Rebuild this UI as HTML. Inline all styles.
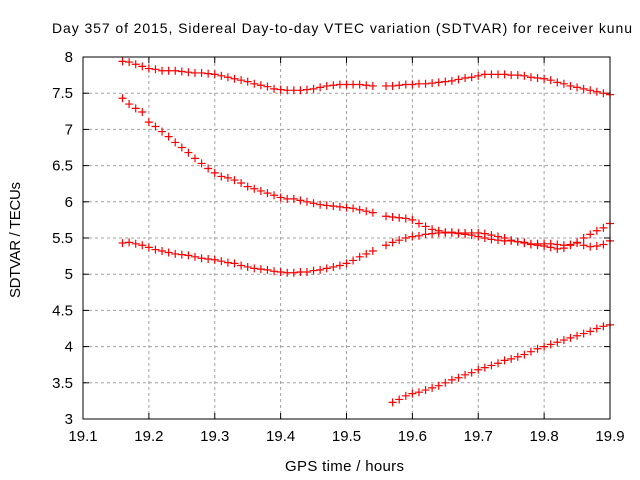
<!DOCTYPE html>
<html><head><meta charset="utf-8"><style>
body{margin:0;background:#fff}
svg{display:block;font-family:"Liberation Sans",sans-serif}
</style></head><body>
<svg id="chart" width="640" height="480" viewBox="0 0 640 480" xmlns="http://www.w3.org/2000/svg">
<rect width="640" height="480" fill="#fff"/>
<text x="52" y="33" font-size="14" textLength="580" lengthAdjust="spacing" fill="#000">Day 357 of 2015, Sidereal Day-to-day VTEC variation (SDTVAR) for receiver kunu</text>
<g id="grid"></g>
<g id="ticks"></g>
<g id="marks"></g>
<rect x="83" y="57" width="527" height="362" fill="none" stroke="#000" stroke-width="1"/>
<text x="285" y="471" font-size="15" textLength="119" lengthAdjust="spacing">GPS time / hours</text>
<text transform="translate(20,298) rotate(-90)" font-size="15" textLength="116" lengthAdjust="spacing">SDTVAR / TECUs</text>
</svg>
<script>
const xTicks = [19.1,19.2,19.3,19.4,19.5,19.6,19.7,19.8,19.9];
const xTickLabels = ["19.1","19.2","19.3","19.4","19.5","19.6","19.7","19.8","19.9"];
const yTicks = [3,3.5,4,4.5,5,5.5,6,6.5,7,7.5,8];
const yTickLabels = ["3","3.5","4","4.5","5","5.5","6","6.5","7","7.5","8"];
const seriesStart = [19.16, 19.16, 19.16, 19.57];
const seriesA = [7.94,7.93,7.90,7.87,7.84,7.83,7.81,7.81,7.81,7.80,7.79,7.78,7.78,7.77,7.76,7.74,7.72,7.70,7.68,7.66,7.63,7.61,7.59,7.56,7.55,7.54,7.54,7.54,7.55,7.56,7.58,7.60,7.61,7.62,7.62,7.62,7.62,7.61,7.60,null,7.60,7.60,7.61,7.62,7.62,7.63,7.63,7.64,7.65,7.66,7.67,7.69,7.71,7.72,7.74,7.76,7.76,7.76,7.76,7.75,7.75,7.74,7.72,7.71,7.70,7.68,7.65,7.63,7.60,7.58,7.56,7.54,7.52,7.50,7.48];
const seriesB = [7.43,7.35,7.29,7.24,7.10,7.04,6.97,6.90,6.82,6.75,6.68,6.60,6.53,6.46,6.40,6.35,6.33,6.30,6.26,6.21,6.18,6.15,6.12,6.09,6.06,6.04,6.04,6.02,6.00,5.98,5.96,5.95,5.94,5.93,5.92,5.91,5.89,5.87,5.85,null,5.80,5.79,5.78,5.77,5.75,5.70,5.66,5.62,5.60,5.58,5.57,5.56,5.55,5.54,5.52,5.50,5.48,5.47,5.46,5.46,5.45,5.44,5.42,5.42,5.42,5.42,5.41,5.40,5.41,5.43,5.40,5.38,5.39,5.41,5.46];
const seriesC = [5.43,5.44,5.42,5.40,5.37,5.34,5.32,5.30,5.28,5.27,5.26,5.24,5.22,5.21,5.20,5.18,5.16,5.15,5.12,5.10,5.08,5.07,5.06,5.04,5.03,5.02,5.02,5.03,5.03,5.05,5.06,5.08,5.10,5.12,5.15,5.19,5.24,5.28,5.32,null,5.40,5.44,5.47,5.50,5.52,5.53,5.55,5.56,5.57,5.57,5.58,5.57,5.57,5.57,5.57,5.56,5.54,5.52,5.50,5.47,5.45,5.43,5.41,5.40,5.39,5.37,5.35,5.36,5.40,5.44,5.50,5.55,5.60,5.64,5.70];
const seriesD = [3.23,3.27,3.32,3.35,3.37,3.40,3.43,3.46,3.50,3.54,3.57,3.61,3.64,3.68,3.71,3.74,3.77,3.81,3.83,3.86,3.89,3.93,3.97,4.00,4.03,4.06,4.09,4.12,4.15,4.18,4.21,4.25,4.28,4.30];
const timeStep = 0.01;

const L=83,R=610,T=57,B=419;
const xs = v => L + (v-19.1)/(19.9-19.1)*(R-L);
const ys = v => B - (v-3)/(8-3)*(B-T);
const NS="http://www.w3.org/2000/svg";
function mk(tag, attrs, parent){const e=document.createElementNS(NS,tag);for(const k in attrs)e.setAttribute(k,attrs[k]);parent.appendChild(e);return e;}
const grid=document.getElementById('grid'), ticks=document.getElementById('ticks'), marks=document.getElementById('marks');
xTicks.forEach((t,i)=>{
  const x=xs(t);
  if(i>0&&i<xTicks.length-1){const g=mk('line',{x1:x,x2:x,y1:T,y2:B,stroke:'#a0a0a0','stroke-dasharray':'3,3'},grid);
  
  }
  mk('line',{x1:x,x2:x,y1:B,y2:B-6,stroke:'#000'},ticks);
  mk('line',{x1:x,x2:x,y1:T,y2:T+6,stroke:'#000'},ticks);
  const tx=mk('text',{x:x,y:B+22,'font-size':'15','text-anchor':'middle'},ticks);
  tx.textContent=xTickLabels[i];
  
  
});
yTicks.forEach((t,i)=>{
  const y=ys(t);
  if(i>0&&i<yTicks.length-1){const g=mk('line',{x1:L,x2:R,y1:y,y2:y,stroke:'#a0a0a0','stroke-dasharray':'3,3'},grid);
  
  }
  mk('line',{x1:L,x2:L+6,y1:y,y2:y,stroke:'#000'},ticks);
  mk('line',{x1:R,x2:R-6,y1:y,y2:y,stroke:'#000'},ticks);
  const tx=mk('text',{x:L-10,y:y+5,'font-size':'15','text-anchor':'end'},ticks);
  tx.textContent=yTickLabels[i];
  
  
});
[seriesA,seriesB,seriesC,seriesD].forEach((s,si)=>{
  let d='';
  s.forEach((v,i)=>{ if(v===null)return;
    const x=xs(seriesStart[si]+i*timeStep), y=ys(v);
    d+=`M${x-4},${y}h8M${x},${y-4}v8`;
  });
  const p=mk('path',{d:d,stroke:'#ff0000','stroke-width':'1.2',fill:'none'},marks);
  
  
});
</script>
</body></html>
